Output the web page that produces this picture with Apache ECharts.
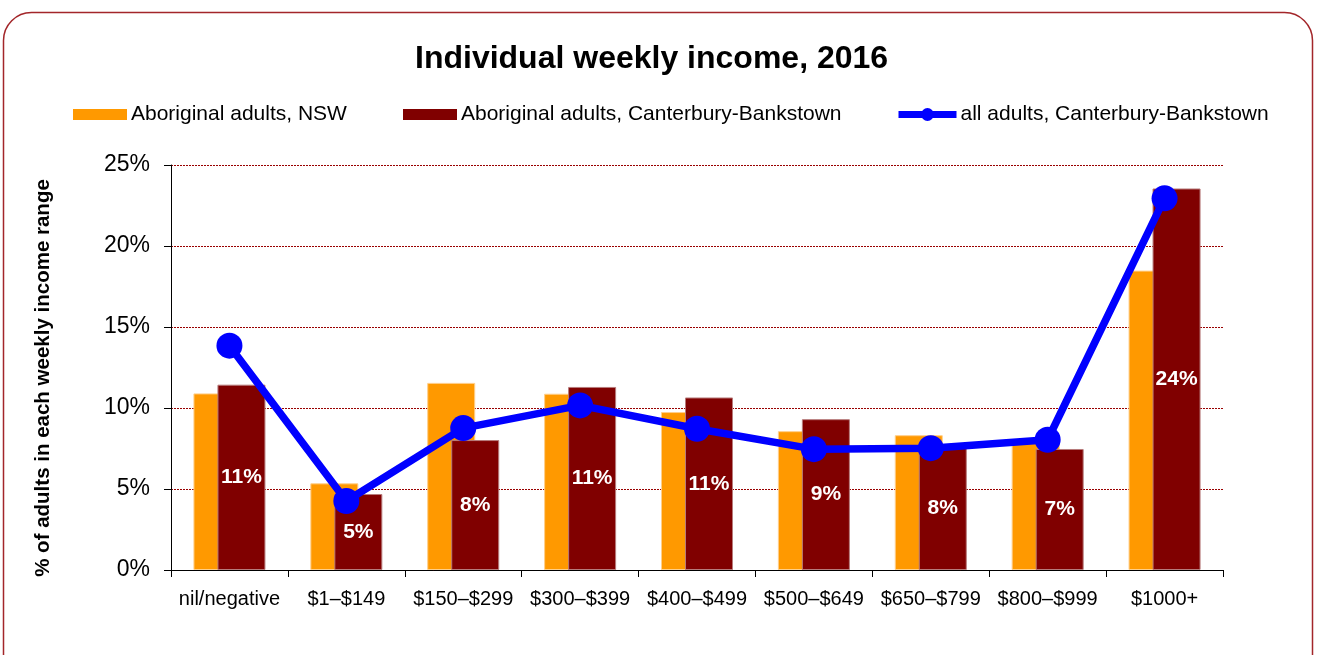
<!DOCTYPE html>
<html>
<head>
<meta charset="utf-8">
<title>Individual weekly income, 2016</title>
<script src="https://cdn.jsdelivr.net/npm/echarts@6/dist/echarts.min.js"></script>
<style>
  html, body { margin: 0; padding: 0; background: #fff; }
  #chart { width: 1318px; height: 655px; }
</style>
</head>
<body>
<div id="chart"></div>
<script>
// categories and values (percent of adults)
const categories = ['nil/negative', '$1–$149', '$150–$299', '$300–$399', '$400–$499', '$500–$649', '$650–$799', '$800–$999', '$1000+'];
const nswValues = [10.9, 5.35, 11.55, 10.88, 9.75, 8.57, 8.32, 7.85, 18.48];
const cbValues = [11.44, 4.69, 8.02, 11.3, 10.65, 9.31, 7.65, 7.47, 23.55];
const allValues = [13.85, 4.26, 8.76, 10.16, 8.72, 7.46, 7.52, 8.04, 22.94];
const yMin = 0, yMax = 25, yStep = 5;

const FONT = 'Liberation Sans, Arial, Helvetica, sans-serif';
const names = ['Aboriginal adults, NSW', 'Aboriginal adults, Canterbury-Bankstown', 'all adults, Canterbury-Bankstown'];

const chart = echarts.init(document.getElementById('chart'));

// one legend per item, so each one can sit where the original puts it
const legendBase = {
  top: 104,
  padding: 0,
  itemGap: 0,
  textStyle: { fontFamily: FONT, fontSize: 21, color: '#000', padding: [0, 0, 0, -1] }
};

chart.setOption({
  animation: false,
  textStyle: { fontFamily: FONT },
  graphic: [
    {
      type: 'rect',
      silent: true,
      z: -1,
      shape: { x: 3.5, y: 12.5, width: 1309, height: 700, r: 28 },
      style: { fill: 'none', stroke: '#a3262a', lineWidth: 1.5 }
    },
    {
      // y axis title, sits a little below the plot centre as in the original
      type: 'text',
      silent: true,
      x: 43,
      y: 378,
      rotation: Math.PI / 2,
      style: {
        text: '% of adults in each weekly income range',
        fontFamily: FONT,
        fontSize: 20.5,
        fontWeight: 'bold',
        fill: '#000',
        align: 'center',
        verticalAlign: 'middle'
      }
    }
  ],
  title: {
    text: 'Individual weekly income, 2016',
    left: 410,
    top: 38,
    textStyle: { fontFamily: FONT, fontSize: 32, fontWeight: 'bold', color: '#000' }
  },
  legend: [
    Object.assign({}, legendBase, {
      left: 73, data: [names[0]], icon: 'rect', itemWidth: 54, itemHeight: 11,
      itemStyle: { borderWidth: 0 }
    }),
    Object.assign({}, legendBase, {
      left: 403, data: [names[1]], icon: 'rect', itemWidth: 54, itemHeight: 11,
      itemStyle: { borderWidth: 0 }
    }),
    Object.assign({}, legendBase, {
      left: 895, data: [names[2]], itemWidth: 58, itemHeight: 16,
      lineStyle: { width: 7 }
    })
  ],
  grid: { left: 171, right: 95, top: 165, bottom: 85 },
  xAxis: {
    type: 'category',
    data: categories,
    axisLine: { lineStyle: { color: '#000', width: 1 } },
    axisTick: { show: true, length: 7, lineStyle: { color: '#000' } },
    axisLabel: { color: '#000', fontSize: 20, margin: 19, interval: 0 },
    splitLine: { show: false }
  },
  yAxis: {
    type: 'value',
    min: yMin,
    max: yMax,
    interval: yStep,
    axisLine: { show: true, lineStyle: { color: '#000', width: 1 } },
    axisTick: { show: true, length: 7, lineStyle: { color: '#000' } },
    axisLabel: { color: '#000', fontSize: 23, margin: 21, formatter: '{value}%' },
    splitLine: { lineStyle: { color: '#990000', type: [2, 1], width: 1 } }
  },
  series: [
    {
      name: names[0],
      type: 'bar',
      data: nswValues,
      barWidth: 48,
      barGap: '-50%',
      itemStyle: { color: '#ff9900', borderColor: '#ffcf8a', borderWidth: 1 }
    },
    {
      name: names[1],
      type: 'bar',
      data: cbValues,
      barWidth: 48,
      barGap: '-50%',
      itemStyle: { color: '#800000', borderColor: '#b77b7b', borderWidth: 1 },
      label: {
        show: true,
        position: 'inside',
        color: '#fff',
        fontFamily: FONT,
        fontSize: 21,
        fontWeight: 'bold',
        formatter: p => Math.round(p.value) + '%'
      }
    },
    {
      name: names[2],
      type: 'line',
      data: allValues,
      symbol: 'circle',
      symbolSize: 26,
      z: 5,
      itemStyle: { color: '#0000ff' },
      lineStyle: { color: '#0000ff', width: 7.5 }
    }
  ]
});
</script>
</body>
</html>
